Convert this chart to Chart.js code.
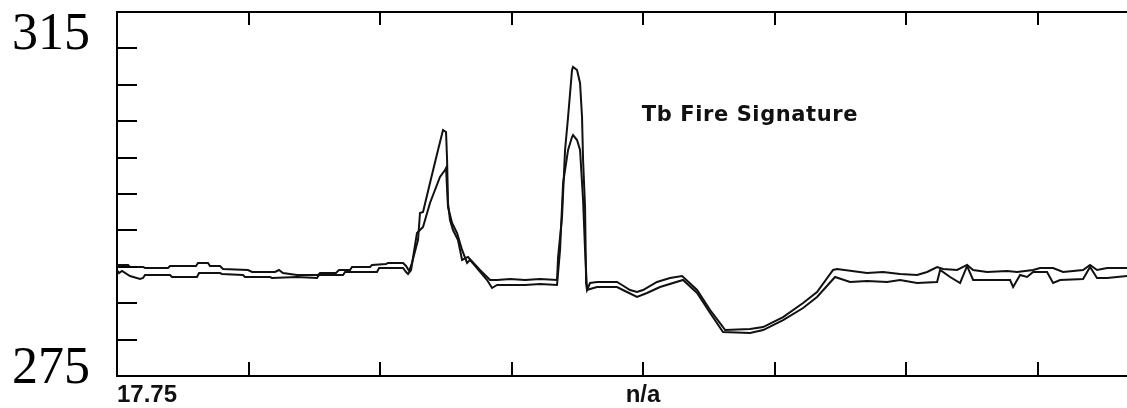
<!DOCTYPE html>
<html>
<head>
<meta charset="utf-8">
<title>Tb Fire Signature</title>
<script src="https://cdn.jsdelivr.net/npm/chart.js@4"></script>
<style>
    html, body { margin: 0; padding: 0; background: #fff; }
    #wrap { position: relative; width: 1127px; height: 408px; }
</style>
</head>
<body>
<div id="wrap"><canvas id="tb-chart"></canvas></div>
<script>
// ===== Data =====
// x runs in scan units (100 per tick), y is brightness temperature (K)
const xTickValues = [0, 100, 200, 300, 400, 500, 600, 700];
const xTickLabels = ['17.75', '', '', '', 'n/a', '', '', ''];
const yTickValues = [275, 279, 283, 287, 291, 295, 299, 303, 307, 311, 315];
const yLabelValues = [315, 275];

const traceAx = [
    0, 8.4, 9.9, 19.8, 21.3, 38.8, 40.3, 60.1, 61.6, 69.2, 70.7, 78.3, 80.6, 99.6, 102.7, 120.2,
    123.2, 126.2, 136.9, 152.9, 154.4, 166.5, 168.8, 177.2, 178.7, 192.4, 193.9, 204.6, 206.1, 217.5,
    219.8, 222.1, 224.3, 228.9, 230.4, 232.7, 238.0, 244.1, 247.9, 250.2, 251.0, 251.7, 253.2, 255.5,
    259.3, 262.4, 265.4, 266.9, 276.0, 283.7, 289.0, 298.9, 310.3, 321.7, 334.6, 335.4, 338.4, 340.7,
    343.0, 346.0, 346.8, 349.8, 352.1, 353.6, 354.4, 355.9, 356.7, 357.4, 359.7, 365.0, 380.2, 384.0,
    390.1, 395.4, 400.0, 410.6, 420.5, 429.7, 441.1, 451.0, 460.8, 462.4, 481.4, 491.3, 506.5, 521.7,
    532.3, 544.5, 547.5, 570.3, 582.5, 595.4, 608.4, 616.0, 623.6, 628.1, 638.8, 646.4, 651.0, 661.6,
    676.8, 684.4, 696.6, 701.9, 711.8, 719.4, 734.6, 739.9, 745.2, 752.9, 768.1
];
const traceAy = [
    287.20, 287.20, 286.98, 286.98, 286.87, 286.87, 287.09, 287.09, 287.42, 287.42, 287.09, 287.09, 286.76, 286.65, 286.43, 286.43,
    286.65, 286.32, 286.10, 286.10, 286.32, 286.32, 286.65, 286.65, 286.98, 286.98, 287.20, 287.31, 287.42, 287.42,
    287.09, 286.54, 287.42, 289.95, 292.91, 293.02, 296.21, 299.84, 302.03, 301.81, 298.74, 294.01, 292.14, 291.04,
    289.95, 287.75, 287.97, 288.08, 286.65, 285.55, 285.55, 285.66, 285.55, 285.66, 285.55, 288.08, 292.47, 299.84,
    303.46, 308.63, 308.96, 308.63, 307.20, 303.46, 298.74, 293.57, 285.22, 284.45, 285.22, 285.33, 285.33, 285.00,
    284.45, 284.23, 284.45, 285.33, 285.77, 285.99, 284.45, 282.25, 280.38, 280.05, 280.16, 280.38, 281.48, 283.02,
    284.23, 286.65, 286.76, 286.32, 286.43, 286.21, 286.10, 286.43, 286.98, 286.76, 286.65, 287.20, 286.65, 286.43,
    286.54, 286.43, 286.65, 286.87, 286.87, 286.43, 286.65, 287.20, 286.65, 286.87, 286.87
];

const traceBx = [
    0, 1.5, 3.8, 9.9, 17.5, 19.8, 21.3, 40.3, 41.8, 60.8, 62.4, 78.3, 79.8, 95.8, 97.3, 116.3,
    117.9, 136.9, 152.1, 153.6, 171.9, 173.4, 197.7, 199.3, 217.5, 219.8, 221.3, 223.6, 228.1, 232.7,
    238.0, 245.6, 249.4, 250.2, 251.7, 254.8, 258.6, 262.4, 266.2, 268.4, 281.4, 285.2, 289.0, 310.3,
    321.7, 334.6, 336.9, 339.2, 343.0, 346.0, 346.8, 349.8, 352.1, 354.4, 355.9, 357.4, 359.7, 365.0,
    380.2, 387.8, 395.4, 403.0, 412.9, 430.4, 441.1, 451.0, 460.8, 481.4, 491.3, 506.5, 521.7, 532.3,
    546.0, 557.4, 570.3, 585.6, 595.4, 608.4, 623.6, 625.9, 633.5, 641.1, 646.4, 651.0, 679.1, 681.4,
    686.7, 692.0, 696.6, 707.2, 711.8, 717.1, 734.6, 739.9, 745.2, 752.9, 768.1
];
const traceBy = [
    286.65, 286.32, 286.54, 285.99, 285.66, 285.77, 286.10, 286.10, 285.88, 285.88, 286.32, 286.32, 286.21, 286.10, 285.88, 285.88,
    285.77, 285.88, 285.77, 286.10, 286.10, 286.43, 286.43, 286.87, 286.87, 286.43, 286.21, 286.65, 290.71, 291.37,
    294.01, 296.87, 297.64, 297.86, 293.57, 291.81, 290.71, 288.85, 287.42, 287.75, 285.55, 284.67, 285.00, 285.00,
    285.11, 285.00, 288.85, 296.21, 299.84, 301.26, 301.48, 300.93, 299.84, 294.34, 288.85, 284.45, 284.56, 284.78,
    284.78, 284.23, 283.68, 284.12, 284.78, 285.55, 284.12, 281.92, 279.84, 279.73, 280.05, 281.15, 282.47, 283.68,
    285.88, 285.33, 285.44, 285.33, 285.55, 285.22, 285.33, 286.65, 285.88, 285.22, 287.09, 285.55, 285.55, 284.78,
    286.10, 285.88, 286.43, 286.43, 285.22, 285.55, 285.66, 286.98, 285.77, 285.77, 285.99
];

const toPoints = (xs, ys) => xs.map((x, i) => ({ x, y: ys[i] }));

// ===== Frame: inward tick marks, big y labels, in-plot caption =====
const framePlugin = {
    id: 'tbFrame',
    afterDraw(chart, args, opts) {
        const { ctx, chartArea: area } = chart;
        const xs = chart.scales.x;
        const ys = chart.scales.y;
        ctx.save();
        ctx.strokeStyle = '#000';
        ctx.lineWidth = 2;
        ctx.beginPath();
        xs.ticks.forEach(t => {
            const px = Math.round(xs.getPixelForValue(t.value));
            ctx.moveTo(px, area.bottom);
            ctx.lineTo(px, area.bottom - 14);
            ctx.moveTo(px, area.top);
            ctx.lineTo(px, area.top + 13);
        });
        ys.ticks.forEach(t => {
            const py = Math.round(ys.getPixelForValue(t.value));
            ctx.moveTo(area.left, py);
            ctx.lineTo(area.left + 20, py);
        });
        ctx.stroke();

        // end values of the temperature axis
        ctx.fillStyle = '#000';
        ctx.font = '52px "Liberation Serif", "Times New Roman", serif';
        ctx.textAlign = 'right';
        ctx.textBaseline = 'alphabetic';
        yLabelValues.forEach((v, i) => {
            ctx.fillText(String(v), opts.labelRight, ys.getPixelForValue(v) + opts.labelShift[i]);
        });

        // caption
        ctx.font = 'bold 21px "DejaVu Sans", sans-serif';
        ctx.textAlign = 'left';
        ctx.letterSpacing = '0.6px';
        ctx.fillStyle = '#111';
        ctx.fillText(opts.caption, xs.getPixelForValue(opts.captionAt.x), ys.getPixelForValue(opts.captionAt.y));
        ctx.restore();
    }
};

const lineStyle = {
    borderColor: '#111',
    borderWidth: 2,
    pointRadius: 0,
    tension: 0,
    fill: false
};

new Chart(document.getElementById('tb-chart'), {
    type: 'line',
    data: {
        datasets: [
            { label: 'Tb A', data: toPoints(traceAx, traceAy), ...lineStyle },
            { label: 'Tb B', data: toPoints(traceBx, traceBy), ...lineStyle }
        ]
    },
    options: {
        responsive: true,
        maintainAspectRatio: false,
        animation: false,
        layout: { padding: 0 },
        plugins: {
            legend: { display: false },
            tooltip: { enabled: false },
            tbFrame: {
                labelRight: 90,
                labelShift: [37, 7],
                caption: 'Tb Fire Signature',
                captionAt: { x: 399, y: 303 }
            }
        },
        scales: {
            x: {
                type: 'linear',
                position: 'bottom',
                min: 0,
                max: 768,
                afterBuildTicks: axis => { axis.ticks = xTickValues.map(value => ({ value })); },
                afterFit: axis => { axis.height = 32; },
                grid: { display: false },
                border: { display: true, color: '#000', width: 2 },
                ticks: {
                    color: '#111',
                    align: 'inner',
                    padding: -3,
                    maxRotation: 0,
                    autoSkip: false,
                    font: { family: '"Liberation Sans", Arial, sans-serif', size: 24, weight: 'bold' },
                    callback: (value, index) => xTickLabels[index]
                }
            },
            xTop: {
                type: 'linear',
                position: 'top',
                min: 0,
                max: 768,
                afterFit: axis => { axis.height = 12; },
                grid: { display: false },
                border: { display: true, color: '#000', width: 2 },
                ticks: { display: false }
            },
            y: {
                type: 'linear',
                position: 'left',
                min: 275,
                max: 315,
                afterBuildTicks: axis => { axis.ticks = yTickValues.map(value => ({ value })); },
                afterFit: axis => { axis.width = 117; },
                grid: { display: false },
                border: { display: true, color: '#000', width: 2 },
                ticks: { display: false }
            }
        }
    },
    plugins: [framePlugin]
});
</script>
</body>
</html>
